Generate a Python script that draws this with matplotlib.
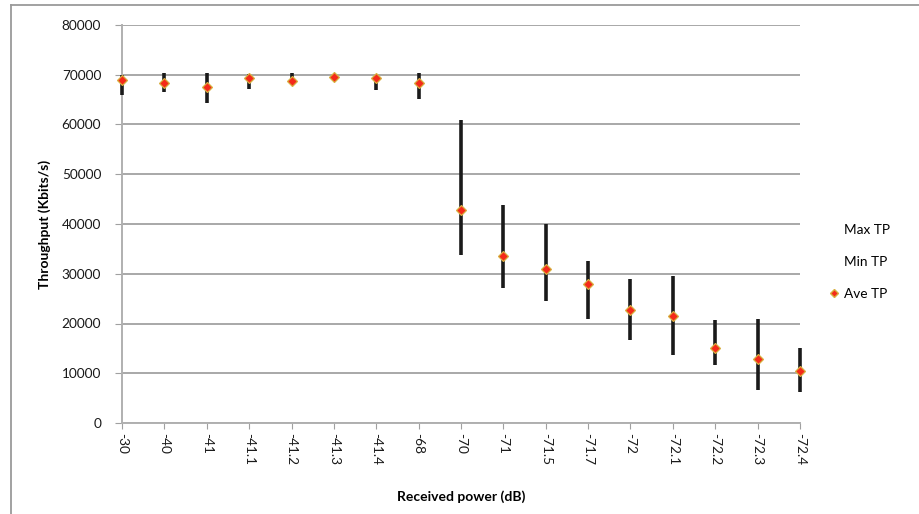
import matplotlib
matplotlib.use("Agg")
import matplotlib.pyplot as plt
from matplotlib.lines import Line2D

plt.rcParams['font.family'] = ['Lato', 'DejaVu Sans']

# received power categories (dB)
power_labels = ["-30", "-40", "-41", "-41.1", "-41.2", "-41.3", "-41.4", "-68",
                "-70", "-71", "-71.5", "-71.7", "-72", "-72.1", "-72.2", "-72.3", "-72.4"]

# throughput (Kbits/s)
max_tp = [70000, 70300, 70300, 70150, 70300, 70100, 69800, 70300,
          60900, 43900, 40000, 32650, 28850, 29500, 20800, 20950, 15000]
min_tp = [66000, 66600, 64400, 67200, 68100, 69100, 66900, 65200,
          33700, 27200, 24600, 20900, 16700, 13600, 11650, 6600, 6200]
ave_tp = [68900, 68400, 67500, 69350, 68700, 69600, 69300, 68400,
          42900, 33500, 31000, 27900, 22800, 21600, 15000, 12850, 10500]

fig = plt.figure(figsize=(9.2, 5.14), dpi=100)
ax = fig.add_axes([122/920, 1-423/514, (800-122)/920, (423-25)/514])

x = list(range(len(power_labels)))
ax.vlines(x, min_tp, max_tp, color='#1a1a1a', linewidth=2.6, zorder=3, clip_on=False)
ax.plot(x, ave_tp, linestyle='none', marker='D', markersize=5,
        markerfacecolor='#f42a1a', markeredgecolor='#d8b040', markeredgewidth=0.9,
        zorder=4, clip_on=False)

ax.set_xlim(0, len(power_labels) - 1)
ax.set_ylim(0, 80000)
ax.set_yticks(range(0, 80001, 10000))
ax.set_xticks(x)
ax.set_xticklabels(power_labels, rotation=270, fontsize=9.8, color='#1a1a1a')
ax.tick_params(axis='y', labelsize=9.8, colors='#1a1a1a', length=5, color='#a0a0a0', pad=10)
ax.tick_params(axis='x', length=4, color='#a0a0a0', pad=3)

ax.grid(axis='y', color='#a8a8a8', linewidth=1.4)
ax.set_axisbelow(True)
for side in ['top', 'right']:
    ax.spines[side].set_visible(False)
for side in ['left', 'bottom']:
    ax.spines[side].set_color('#b0b0b0')
    ax.spines[side].set_linewidth(1.4)

ax.set_xlabel("Received power (dB)", fontsize=10, fontweight='bold', labelpad=18)
ax.set_ylabel("Throughput (Kbits/s)", fontsize=10, fontweight='bold', labelpad=8)

handles = [Line2D([], [], linestyle='none', label='Max TP'),
           Line2D([], [], linestyle='none', label='Min TP'),
           Line2D([], [], linestyle='none', marker='D', markersize=4.5,
                  markerfacecolor='#f42a1a', markeredgecolor='#d8b040', label='Ave TP')]
fig.legend(handles=handles, loc='center left', bbox_to_anchor=(818/920, 1-262/514),
           frameon=False, fontsize=9.8, handlelength=0.6, handletextpad=0.4,
           labelspacing=1.45)

# outer chart frame (top and left edges)
fig.add_artist(Line2D([11/920, 1], [1-5/514, 1-5/514], color='#9a9a9a', linewidth=1.3))
fig.add_artist(Line2D([11/920, 11/920], [0, 1-5/514], color='#9a9a9a', linewidth=1.3))

fig.savefig("out.png", dpi=100)
